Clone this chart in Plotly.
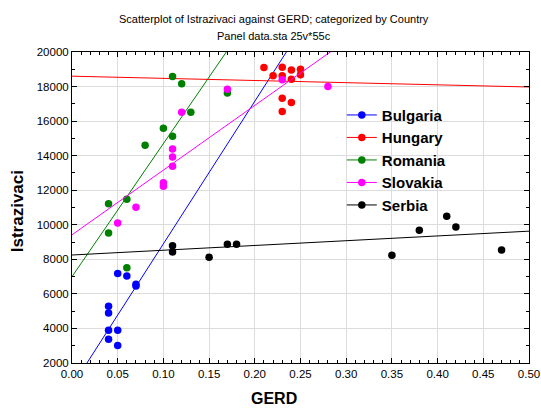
import plotly.graph_objects as go

# ---- data ----
countries = ["Bulgaria", "Hungary", "Romania", "Slovakia", "Serbia"]
colors = ["#0000ff", "#ff0000", "#008000", "#ff00ff", "#000000"]

bulgaria_gerd = [0.05, 0.06, 0.07, 0.07, 0.04, 0.04, 0.04, 0.05, 0.04, 0.05]
bulgaria_res = [7180, 7040, 6560, 6460, 5290, 4900, 3900, 3900, 3370, 3020]

hungary_gerd = [0.21, 0.22, 0.23, 0.23, 0.24, 0.25, 0.25, 0.24, 0.23, 0.24, 0.23]
hungary_res = [19100, 18620, 19120, 18620, 18960, 19000, 18680, 18430, 17330, 17080, 16560]

romania_gerd = [0.11, 0.12, 0.13, 0.10, 0.11, 0.08, 0.06, 0.04, 0.04, 0.06, 0.17]
romania_res = [18580, 18160, 16520, 15580, 15120, 14600, 11480, 11220, 9520, 7520, 17620]

slovakia_gerd = [0.12, 0.11, 0.11, 0.11, 0.10, 0.10, 0.07, 0.05, 0.17, 0.23, 0.28]
slovakia_res = [16520, 14390, 13930, 13390, 12430, 12230, 11020, 10100, 17840, 18390, 18000]

serbia_gerd = [0.11, 0.11, 0.15, 0.17, 0.18, 0.35, 0.38, 0.41, 0.42, 0.47]
serbia_res = [8790, 8420, 8120, 8880, 8880, 8230, 9680, 10500, 9870, 8540]

# fitted regression lines (intercept, slope)
fit_intercepts = [650, 18600, 7000, 9420, 8250]
fit_slopes = [82500, -1250, 77000, 37450, 2760]

x_range = [0.0, 0.5]
y_range = [2000, 20000]
x_ticks = [0.00, 0.05, 0.10, 0.15, 0.20, 0.25, 0.30, 0.35, 0.40, 0.45, 0.50]
y_ticks = [2000, 4000, 6000, 8000, 10000, 12000, 14000, 16000, 18000, 20000]

gerd = [bulgaria_gerd, hungary_gerd, romania_gerd, slovakia_gerd, serbia_gerd]
res = [bulgaria_res, hungary_res, romania_res, slovakia_res, serbia_res]

FONT = "Arial, Liberation Sans, sans-serif"

fig = go.Figure()
for name, col, gx, ry, a, b in zip(countries, colors, gerd, res, fit_intercepts, fit_slopes):
    fig.add_trace(go.Scatter(x=gx, y=ry, mode="markers", showlegend=False,
                             marker=dict(color=col, size=7.5, line=dict(width=0)),
                             hoverinfo="x+y"))
    lx = x_range
    ly = [a + b * v for v in lx]
    fig.add_trace(go.Scatter(x=lx, y=ly, mode="lines", showlegend=False,
                             line=dict(color=col, width=1), hoverinfo="skip"))
    # legend entry
    fig.add_trace(go.Scatter(x=[None], y=[None], mode="lines+markers", name="<b>" + name + "</b>",
                             marker=dict(color=col, size=7.5),
                             line=dict(color=col, width=1)))

axis_common = dict(
    showline=True, linecolor="black", linewidth=1, mirror="ticks",
    ticks="inside", ticklen=5, tickcolor="black", tickwidth=1,
    showgrid=True, gridcolor="#dcdcdc", gridwidth=1, zeroline=False,
    automargin=False,
    tickfont=dict(family=FONT, size=11.5, color="black"),
)

fig.update_xaxes(range=x_range, tickvals=x_ticks, tickformat=".2f",
                 minor=dict(dtick=0.01, ticks="inside", ticklen=3, tickcolor="black", showgrid=False),
                 **axis_common)
fig.update_yaxes(range=y_range, tickvals=y_ticks, tickformat="d",
                 minor=dict(dtick=1000, ticks="inside", ticklen=3, tickcolor="black", showgrid=False),
                 **axis_common)

def px_to_paper_y(py):
    return (363.3 - py) / 311.0

def px_to_paper_x(px):
    return (px - 72.0) / 457.3

annotations = [
    dict(text="Scatterplot of Istrazivaci against GERD; categorized by Country",
         x=px_to_paper_x(274), y=px_to_paper_y(19), xref="paper", yref="paper",
         showarrow=False, xanchor="center", yanchor="middle",
         font=dict(family=FONT, size=11, color="black")),
    dict(text="Panel data.sta 25v*55c",
         x=px_to_paper_x(274), y=px_to_paper_y(36), xref="paper", yref="paper",
         showarrow=False, xanchor="center", yanchor="middle",
         font=dict(family=FONT, size=11, color="black")),
    dict(text="<b>GERD</b>",
         x=px_to_paper_x(274.5), y=px_to_paper_y(399), xref="paper", yref="paper",
         showarrow=False, xanchor="center", yanchor="middle",
         font=dict(family=FONT, size=16, color="black")),
    dict(text="<b>Istrazivaci</b>", textangle=-90,
         x=px_to_paper_x(17.5), y=px_to_paper_y(212), xref="paper", yref="paper",
         showarrow=False, xanchor="center", yanchor="middle",
         font=dict(family=FONT, size=17, color="black")),
]

fig.update_layout(
    width=541, height=408,
    margin=dict(l=72, r=12, t=52, b=45, pad=0, autoexpand=False),
    paper_bgcolor="white", plot_bgcolor="white",
    annotations=annotations,
    legend=dict(x=px_to_paper_x(342), y=px_to_paper_y(99), xanchor="left", yanchor="top",
                bgcolor="rgba(0,0,0,0)", borderwidth=0,
                font=dict(family=FONT, size=15, color="black"),
                itemwidth=30),
    font=dict(family=FONT),
)

fig.write_html("out.html")
